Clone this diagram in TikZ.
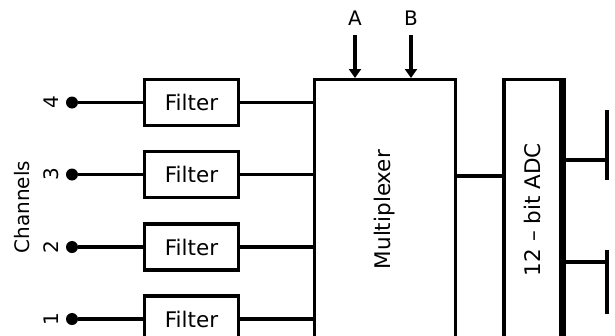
\documentclass[tikz,border=0pt]{standalone}
\usepackage{fontspec}
\setmainfont{DejaVu Sans}
\usepackage{graphicx}
\usetikzlibrary{arrows.meta}

\begin{document}
\begin{tikzpicture}[x=1pt, y=-1pt, font=\fontsize{20}{24}\selectfont,
  blk/.style={draw, line width=3.2pt, inner sep=0pt, font=\fontsize{21.5}{26}\selectfont},
  wire/.style={line width=3.2pt},
  pin/.style={circle, fill, inner sep=0pt, minimum size=12pt},
  sel/.style={line width=3.2pt, -{Triangle[width=12pt, length=9pt]}}]
\useasboundingbox (0,0) rectangle (615,335);
\clip (0,0) rectangle (615,335);
%\draw[black, thick] (0,0) rectangle (615,335);
% inputs
\node [rotate=90] (chan) at (22,207) {Channels};
\node [blk, minimum width=94pt, minimum height=46pt] (f4) at (191.5,102.5) {Filter};
\node [blk, minimum width=94pt, minimum height=46pt] (f3) at (191.5,174.5) {Filter};
\node [blk, minimum width=94pt, minimum height=46pt] (f2) at (191.5,247) {Filter};
\node [blk, minimum width=94pt, minimum height=46pt] (f1) at (191.5,319) {Filter};
\node [pin] (p4) at (72,102.5) {};
\node [pin] (p3) at (72,174.5) {};
\node [pin] (p2) at (72,247) {};
\node [pin] (p1) at (72,319) {};
\node [rotate=90] (n4) at (51,102.5) {4};
\node [rotate=90] (n3) at (51,174.5) {3};
\node [rotate=90] (n2) at (51,247) {2};
\node [rotate=90] (n1) at (51,319) {1};
% multiplexer and adc
\node [blk, minimum width=141pt, minimum height=260pt] (mux) at (385,209.6) {\rotatebox{90}{Multiplexer}};
\node [blk, minimum width=57pt, minimum height=260pt] (adc) at (532.5,209.6) {\rotatebox{90}{12 -- bit ADC}};
\draw [line width=5pt] ([xshift=1pt]adc.north east) -- ([xshift=1pt]adc.south east);
\node (A) at (355,18) {A};
\node (B) at (411,18) {B};
\coordinate (o1) at (607,110);
\coordinate (o2) at (607,250);
\draw [wire] (o1) -- ++(0,70);
\draw [wire] (o2) -- ++(0,64);
% wires
\draw [wire] (p4) -- (f4);
\draw [wire] (p3) -- (f3);
\draw [wire] (p2) -- (f2);
\draw [wire] (p1) -- (f1);
\draw [wire] (f4) -- (f4 -| mux.west);
\draw [wire] (f3) -- (f3 -| mux.west);
\draw [wire] (f2) -- (f2 -| mux.west);
\draw [wire] (f1) -- (f1 -| mux.west);
\draw [sel] ([yshift=-6pt]A.south) -- (A |- mux.north);
\draw [sel] ([yshift=-6pt]B.south) -- (B |- mux.north);
\draw [wire] ([yshift=33.6pt]mux.east) -- ([yshift=33.6pt]adc.west);
\draw [wire] ([yshift=49.6pt]adc.east) -- ([yshift=49.6pt]adc.east -| o1);
\draw [wire] ([yshift=-52.4pt]adc.east) -- ([yshift=-52.4pt]adc.east -| o2);
\end{tikzpicture}
\end{document}
